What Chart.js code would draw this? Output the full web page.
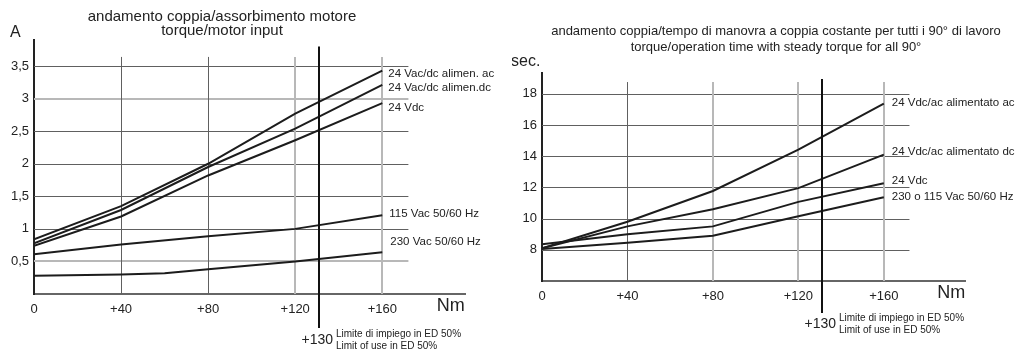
<!DOCTYPE html>
<html><head><meta charset="utf-8">
<script src="https://cdn.jsdelivr.net/npm/chart.js@4.4.0/dist/chart.umd.min.js"></script>
<style>
html,body{margin:0;padding:0;background:#fff;width:1024px;height:360px;overflow:hidden}
.wrap{position:absolute;top:0;width:512px;height:360px}
#w1{left:0} #w2{left:512px}
</style></head><body>
<div class="wrap" id="w1"><canvas id="c1"></canvas></div>
<div class="wrap" id="w2"><canvas id="c2"></canvas></div>
<script>
// shared torque axis
const torqueTicks = [0, 40, 80, 120, 160];
const torqueTickLabels = ['0', '+40', '+80', '+120', '+160'];
const limitTorque = 130;
const limitLabel = '+130';
const limitText = ['Limite di impiego in ED 50%', 'Limit of use in ED 50%'];

// chart 1: torque / motor input (A)
const motorTitle = ['andamento coppia/assorbimento motore', 'torque/motor input'];
const motorUnit = 'A';
const motorTorque = [0, 40, 80, 120, 160];
const motorTorque230 = [0, 40, 60, 80, 120, 160];
const amps24AcDcAc = [0.84, 1.35, 2.0, 2.77, 3.43];
const amps24AcDcDc = [0.78, 1.29, 1.95, 2.54, 3.21];
const amps24Vdc = [0.74, 1.19, 1.82, 2.36, 2.93];
const amps115 = [0.61, 0.76, 0.885, 1.0, 1.21];
const amps230 = [0.28, 0.30, 0.32, 0.38, 0.50, 0.64];
const motorSeriesNames = ['24 Vac/dc alimen. ac', '24 Vac/dc alimen.dc', '24 Vdc', '115 Vac 50/60 Hz', '230 Vac 50/60 Hz'];
const ampTicks = [0.5, 1, 1.5, 2, 2.5, 3, 3.5];
const ampTickLabels = ['0,5', '1', '1,5', '2', '2,5', '3', '3,5'];

// chart 2: torque / operation time (sec.)
const timeTitle = ['andamento coppia/tempo di manovra a coppia costante per tutti i 90° di lavoro', 'torque/operation time with steady torque for all 90°'];
const timeUnit = 'sec.';
const timeTorque = [0, 40, 80, 120, 160];
const sec24AcDcAc = [8.1, 9.8, 11.77, 14.42, 17.37];
const sec24AcDcDc = [8.1, 9.5, 10.6, 11.95, 14.1];
const sec24Vdc = [8.35, 9.0, 9.5, 11.07, 12.27];
const sec230or115 = [8.05, 8.45, 8.9, 10.15, 11.37];
const timeSeriesNames = ['24 Vdc/ac alimentato ac', '24 Vdc/ac alimentato dc', '24 Vdc', '230 o 115 Vac 50/60 Hz'];
const secTicks = [8, 10, 12, 14, 16, 18];
const secTickLabels = ['8', '10', '12', '14', '16', '18'];

const FONT = '"Liberation Sans", Arial, Helvetica, sans-serif';
const LINE = '#1c1c1c';

function pts(xs, ys) { return xs.map((x, i) => ({ x: x, y: ys[i] })); }

const decorPlugin = {
  id: 'decor',
  beforeDatasetsDraw(chart) {
    const o = chart.options.plugins.decor;
    const xs = chart.scales.x, ys = chart.scales.y, ctx = chart.ctx;
    ctx.save();
    // horizontal grid
    o.yTicks.forEach(v => {
      const light = o.lightY.includes(v);
      ctx.strokeStyle = light ? '#b8b8b8' : '#606060';
      ctx.lineWidth = light ? 2 : 1;
      const y = Math.round(ys.getPixelForValue(v)) + (light ? 0 : 0.5);
      ctx.beginPath();
      ctx.moveTo(xs.getPixelForValue(0), y);
      ctx.lineTo(xs.getPixelForValue(o.gridRight), y);
      ctx.stroke();
    });
    // vertical grid
    torqueTicks.slice(1).forEach(v => {
      const light = o.lightX.includes(v);
      ctx.strokeStyle = light ? '#b8b8b8' : '#606060';
      ctx.lineWidth = light ? 2 : 1;
      const x = Math.round(xs.getPixelForValue(v)) + (light ? 0 : 0.5);
      ctx.beginPath();
      ctx.moveTo(x, ys.getPixelForValue(o.gridTop));
      ctx.lineTo(x, ys.getPixelForValue(ys.min));
      ctx.stroke();
    });
    ctx.restore();
  },
  afterDraw(chart) {
    const o = chart.options.plugins.decor;
    const xs = chart.scales.x, ys = chart.scales.y, ctx = chart.ctx;
    ctx.save();
    // limit line
    const lx = Math.round(xs.getPixelForValue(limitTorque)) + o.limitDx;
    ctx.strokeStyle = '#111';
    ctx.lineWidth = 2;
    ctx.beginPath();
    ctx.moveTo(lx, ys.getPixelForValue(o.limitTop));
    ctx.lineTo(lx, ys.bottom + o.limitBelow);
    ctx.stroke();
    ctx.fillStyle = '#222';
    ctx.textBaseline = 'middle';
    ctx.textAlign = 'right';
    ctx.font = '14px ' + FONT;
    ctx.fillText(limitLabel, lx + 14, ys.bottom + o.limitLabelDy);
    ctx.textAlign = 'left';
    ctx.font = '10px ' + FONT;
    ctx.fillText(limitText[0], lx + 17, ys.bottom + o.limitLabelDy - 6);
    ctx.fillText(limitText[1], lx + 17, ys.bottom + o.limitLabelDy + 6);
    // titles
    ctx.textAlign = 'center';
    ctx.font = o.titleFont + 'px ' + FONT;
    ctx.fillStyle = '#222';
    o.title.forEach((t, i) => ctx.fillText(t, o.titleX, o.titleY[i]));
    // unit label
    ctx.textAlign = 'left';
    ctx.font = '16px ' + FONT;
    ctx.fillText(o.unit, o.unitX, o.unitY);
    // Nm
    ctx.font = '18px ' + FONT;
    ctx.fillText('Nm', xs.getPixelForValue(185), ys.bottom + o.nmDy);
    // series labels
    ctx.font = '11.5px ' + FONT;
    chart.data.datasets.forEach(ds => {
      const last = ds.data[ds.data.length - 1];
      ctx.fillText(ds.label, xs.getPixelForValue(last.x) + ds.labelDx, ys.getPixelForValue(last.y) + ds.labelDy);
    });
    ctx.restore();
  }
};

function makeChart(id, datasets, yCfg, decor, layout) {
  return new Chart(document.getElementById(id), {
    type: 'line',
    data: { datasets: datasets.map(d => Object.assign({
      borderColor: LINE, borderWidth: 2, pointRadius: 0, fill: false, tension: 0
    }, d)) },
    options: {
      responsive: true, maintainAspectRatio: false, animation: false,
      devicePixelRatio: 1,
      layout: { padding: layout.padding },
      plugins: { legend: { display: false }, tooltip: { enabled: false }, decor: decor },
      scales: {
        x: {
          type: 'linear', min: 0, max: 198,
          afterBuildTicks: s => { s.ticks = torqueTicks.map(v => ({ value: v })); },
          afterFit: s => { s.height = layout.xHeight; },
          ticks: { autoSkip: false, maxRotation: 0, padding: layout.xPad, color: '#222',
            font: { family: FONT, size: 13 },
            callback: v => torqueTickLabels[torqueTicks.indexOf(v)] },
          grid: { display: false, drawTicks: false },
          border: { display: true, color: '#666', width: 2 }
        },
        y: {
          type: 'linear', min: yCfg.min, max: yCfg.max,
          afterBuildTicks: s => { s.ticks = yCfg.ticks.map(v => ({ value: v })); },
          afterFit: s => { s.width = layout.yWidth; },
          ticks: { autoSkip: false, padding: 5, color: '#222',
            font: { family: FONT, size: 13 },
            callback: v => yCfg.labels[yCfg.ticks.indexOf(v)] },
          grid: { display: false, drawTicks: false },
          border: { display: true, color: '#222', width: 2 }
        }
      }
    },
    plugins: [decorPlugin]
  });
}

makeChart('c1', [
  { label: motorSeriesNames[0], data: pts(motorTorque, amps24AcDcAc), labelDx: 6, labelDy: 3 },
  { label: motorSeriesNames[1], data: pts(motorTorque, amps24AcDcDc), labelDx: 6, labelDy: 3 },
  { label: motorSeriesNames[2], data: pts(motorTorque, amps24Vdc), labelDx: 6, labelDy: 5 },
  { label: motorSeriesNames[3], data: pts(motorTorque, amps115), labelDx: 7, labelDy: -1 },
  { label: motorSeriesNames[4], data: pts(motorTorque230, amps230), labelDx: 8, labelDy: -10 }
], { min: 0, max: 3.9, ticks: ampTicks, labels: ampTickLabels }, {
  yTicks: ampTicks, lightY: [3, 0.5], lightX: [120, 160], gridRight: 172, gridTop: 3.64,
  limitTop: 3.8, limitBelow: 34, limitLabelDy: 46, limitDx: 2,
  title: motorTitle, titleFont: 15, titleX: 222, titleY: [17, 31],
  unit: motorUnit, unitX: 10, unitY: 33, nmDy: 12
}, { padding: { top: 40, right: 47, left: 0, bottom: 0 }, xHeight: 66, yWidth: 34, xPad: 8 });

makeChart('c2', [
  { label: timeSeriesNames[0], data: pts(timeTorque, sec24AcDcAc), labelDx: 8, labelDy: -1 },
  { label: timeSeriesNames[1], data: pts(timeTorque, sec24AcDcDc), labelDx: 8, labelDy: -3 },
  { label: timeSeriesNames[2], data: pts(timeTorque, sec24Vdc), labelDx: 8, labelDy: -2 },
  { label: timeSeriesNames[3], data: pts(timeTorque, sec230or115), labelDx: 8, labelDy: 0 }
], { min: 6, max: 19.33, ticks: secTicks, labels: secTickLabels }, {
  yTicks: secTicks, lightY: [], lightX: [80, 120, 160], gridRight: 172, gridTop: 18.75,
  limitTop: 18.95, limitBelow: 32, limitLabelDy: 43, limitDx: 2,
  title: timeTitle, titleFont: 13, titleX: 264, titleY: [31, 47],
  unit: timeUnit, unitX: -1, unitY: 62, nmDy: 12
}, { padding: { top: 73, right: 59, left: 0, bottom: 0 }, xHeight: 79, yWidth: 30, xPad: 8 });
</script>
</body></html>
